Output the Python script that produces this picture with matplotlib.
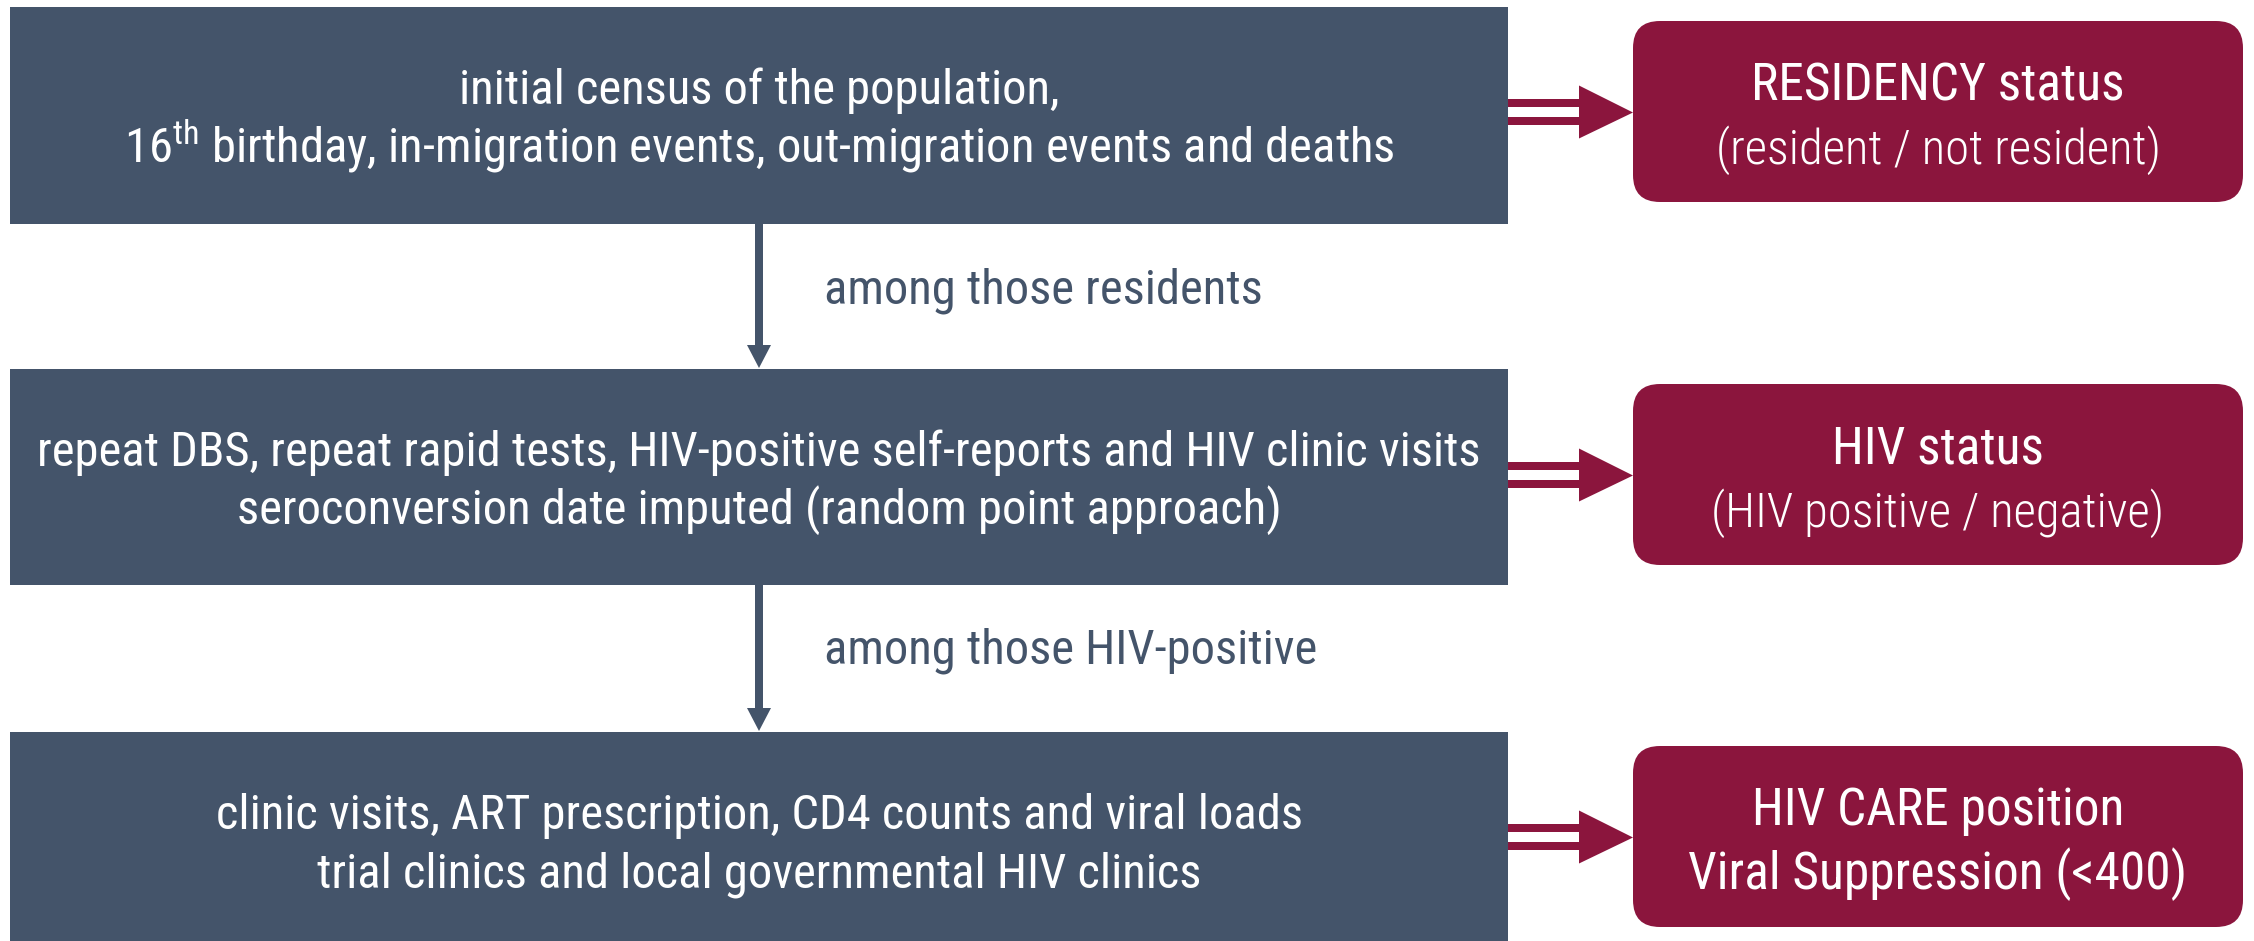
import matplotlib
matplotlib.use("Agg")
import matplotlib.pyplot as plt
from matplotlib.patches import Rectangle, FancyBboxPatch, Polygon
from matplotlib import font_manager

# ---------------- data ----------------
left_line1 = [
    "initial census of the population,",
    "repeat DBS, repeat rapid tests, HIV-positive self-reports and HIV clinic visits",
    "clinic visits, ART prescription, CD4 counts and viral loads",
]
left_line2 = [
    "16$^{\\mathrm{th}}$ birthday, in-migration events, out-migration events and deaths",
    "seroconversion date imputed (random point approach)",
    "trial clinics and local governmental HIV clinics",
]
right_titles = ["RESIDENCY status", "HIV status", "HIV CARE position"]
right_subtitles = ["(resident / not resident)", "(HIV positive / negative)", "Viral Suppression (<400)"]
sub_light = [True, True, False]
connector_labels = ["among those residents", "among those HIV-positive"]

# ---------------- style ----------------
SLATE = "#44546A"
MAROON = "#8B153D"

names = {f.name for f in font_manager.fontManager.ttflist}
if "Roboto Condensed" in names:
    FAM = "Roboto Condensed"
    scale = 1.0
else:
    FAM = "Roboto"
    scale = 0.84
plt.rcParams["font.family"] = [FAM, "DejaVu Sans"]
plt.rcParams["mathtext.fontset"] = "custom"
plt.rcParams["mathtext.rm"] = FAM
plt.rcParams["mathtext.it"] = FAM + ":italic"
plt.rcParams["mathtext.bf"] = FAM + ":bold"

FS = 35 * scale
FS_TITLE = 35 * 0.85 * 1.11
FS_SUB_LIGHT = 35 * 0.85
FS_SUB_REG = 35 * 0.85 * 1.11
if scale == 1.0:
    FS_TITLE, FS_SUB_LIGHT, FS_SUB_REG = 37, 35, 37

W, H = 2254, 941
fig = plt.figure(figsize=(W / 100, H / 100), dpi=100)
ax = fig.add_axes([0, 0, 1, 1])
ax.set_xlim(0, W)
ax.set_ylim(H, 0)
ax.axis("off")

# layout
LX0, LX1 = 10, 1508
left_tops = [7, 369, 732]
left_bots = [224, 585, 950]
RX0, RX1 = 1633, 2243
right_tops = [21, 384, 746]
RH = 181
cx_left = (LX0 + LX1) / 2
cx_right = (RX0 + RX1) / 2
arrow_x = 759

for i in range(3):
    top, bot = left_tops[i], left_bots[i]
    ax.add_patch(Rectangle((LX0, top), LX1 - LX0, bot - top, facecolor=SLATE, edgecolor="none"))
    ax.text(cx_left, top + 97, left_line1[i], color="white", fontsize=FS,
            ha="center", va="baseline")
    ax.text(cx_left, top + 155, left_line2[i], color="white", fontsize=FS,
            ha="center", va="baseline")

    rt = right_tops[i]
    ax.add_patch(FancyBboxPatch((RX0, rt), RX1 - RX0, RH,
                                boxstyle="round,pad=0,rounding_size=27",
                                facecolor=MAROON, edgecolor="none"))
    ax.text(cx_right, rt + 79, right_titles[i], color="white", fontsize=FS_TITLE,
            ha="center", va="baseline")
    ax.text(cx_right, rt + 143, right_subtitles[i], color="white",
            fontsize=FS_SUB_LIGHT if sub_light[i] else FS_SUB_REG,
            ha="center", va="baseline",
            fontweight="light" if sub_light[i] else "normal")

    # double arrow to the right box
    cy = rt + RH / 2 + 1
    for dy in (-9.5, 8):
        ax.add_patch(Rectangle((LX1, cy + dy - 4), 1579 - LX1, 8,
                               facecolor=MAROON, edgecolor="none"))
    ax.add_patch(Polygon([(1579, cy - 27), (RX0, cy), (1579, cy + 26)],
                         closed=True, facecolor=MAROON, edgecolor="none"))

# down arrows with labels
for j in range(2):
    y0 = left_bots[j]
    y1 = left_tops[j + 1]
    ax.add_patch(Rectangle((arrow_x - 4, y0), 8, (y1 - 24) - y0,
                           facecolor=SLATE, edgecolor="none"))
    ax.add_patch(Polygon([(arrow_x - 12, y1 - 24), (arrow_x + 12, y1 - 24), (arrow_x, y1 - 1)],
                         closed=True, facecolor=SLATE, edgecolor="none"))
    ax.text(824, y0 + 79, connector_labels[j], color=SLATE, fontsize=FS,
            ha="left", va="baseline")

fig.savefig("out.png", dpi=100, facecolor="white")
